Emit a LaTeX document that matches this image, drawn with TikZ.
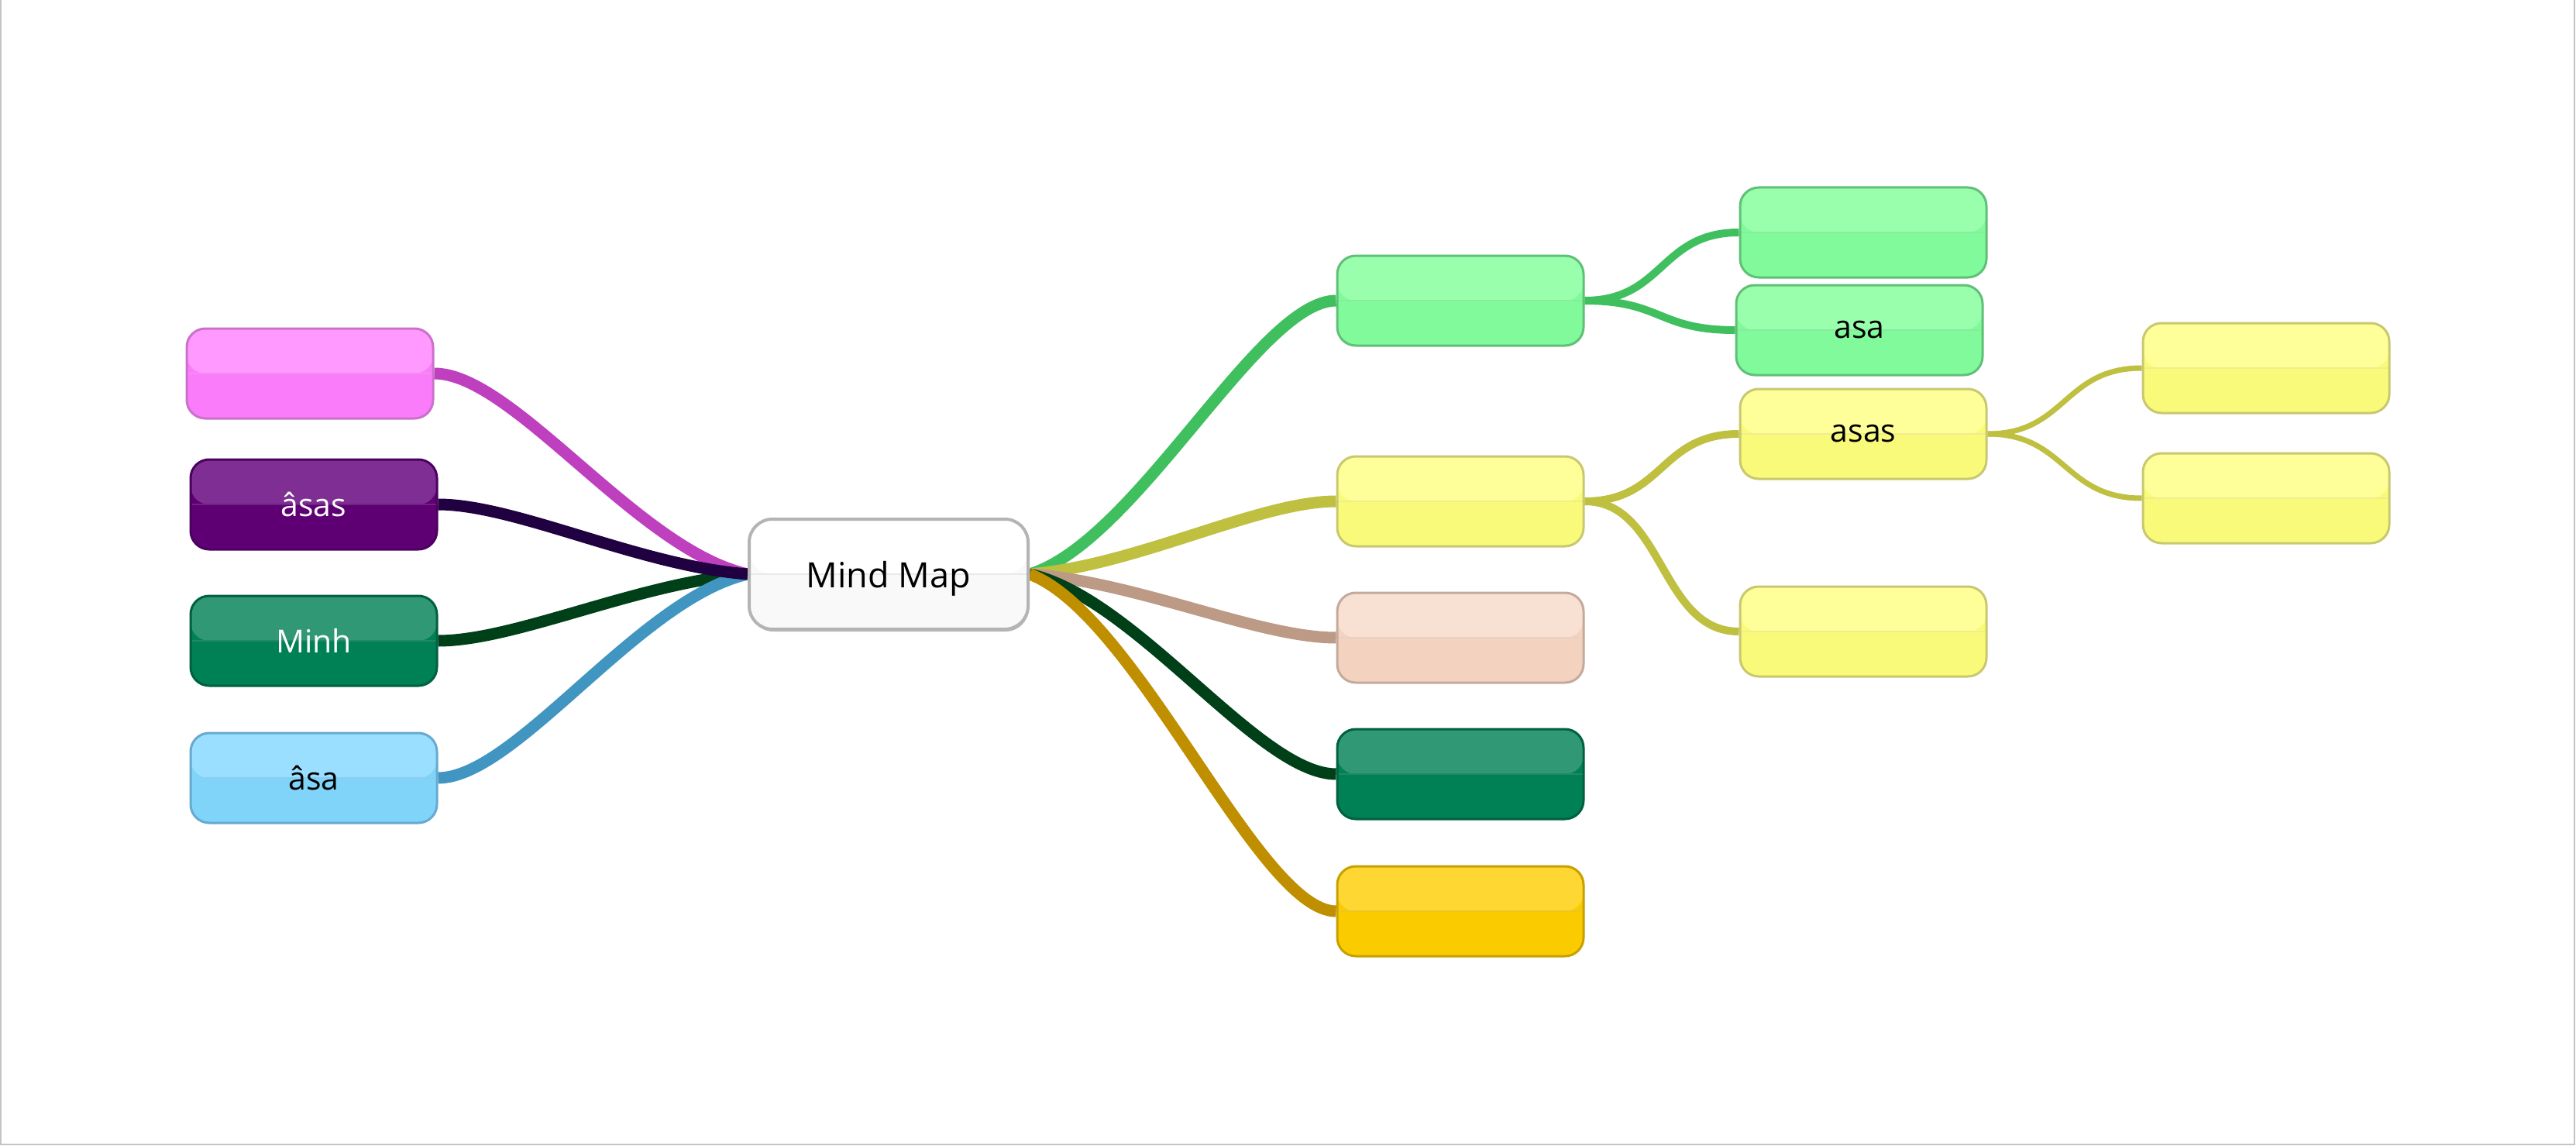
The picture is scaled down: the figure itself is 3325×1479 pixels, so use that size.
\documentclass[tikz,border=0pt]{standalone}
\usepackage{fontspec}
\setmainfont{Open Sans}
\usetikzlibrary{backgrounds,shadows,calc}
\definecolor{pinkT}{HTML}{FF99FF}\definecolor{pinkB}{HTML}{FA7CFA}\definecolor{pinkD}{HTML}{CC70CC}\definecolor{pinkL}{HTML}{BF40BF}
\definecolor{purT}{HTML}{7F2F93}\definecolor{purB}{HTML}{5E0073}\definecolor{purD}{HTML}{4C0060}\definecolor{purL}{HTML}{200040}
\definecolor{mgT}{HTML}{319876}\definecolor{mgB}{HTML}{008055}\definecolor{mgD}{HTML}{00603F}\definecolor{mgL}{HTML}{004018}
\definecolor{blT}{HTML}{9ADFFF}\definecolor{blB}{HTML}{80D4FA}\definecolor{blD}{HTML}{66AAD0}\definecolor{blL}{HTML}{4096C0}
\definecolor{lgT}{HTML}{99FFAD}\definecolor{lgB}{HTML}{80FA9A}\definecolor{lgD}{HTML}{60C078}\definecolor{lgL}{HTML}{40BF5F}
\definecolor{ylT}{HTML}{FFFF99}\definecolor{ylB}{HTML}{FAFA7A}\definecolor{ylD}{HTML}{C8C870}\definecolor{ylL}{HTML}{BFBF40}
\definecolor{peT}{HTML}{F8E0D2}\definecolor{peB}{HTML}{F3D3C0}\definecolor{peD}{HTML}{C4AA9C}\definecolor{peL}{HTML}{BC9A86}
\definecolor{goT}{HTML}{FFD733}\definecolor{goB}{HTML}{FACC00}\definecolor{goD}{HTML}{C8A000}\definecolor{goL}{HTML}{BF8F00}
\definecolor{mmT}{HTML}{FFFFFF}\definecolor{mmB}{HTML}{F9F9F9}\definecolor{mmD}{HTML}{B4B4B4}
\definecolor{frameC}{HTML}{C4C4C4}
\tikzset{
  twotone/.style n args={3}{fill=#2, draw=#3,
    path picture={\fill[#1] (path picture bounding box.north west) rectangle (path picture bounding box.east);
      \draw[line width=2.5pt, #1!70!#3] (path picture bounding box.west) -- (path picture bounding box.east);}},
  sbox/.style={rectangle, rounded corners=24pt, minimum width=318pt, minimum height=116pt,
    line width=3pt, inner sep=0pt, font=\fontsize{41}{48}\selectfont},
  mmbox/.style={rectangle, rounded corners=30pt, minimum width=360pt, minimum height=142pt,
    line width=4pt, inner sep=0pt, text depth=0pt, font=\fontsize{45}{52}\selectfont,
    twotone={mmT}{mmB}{mmD},
    drop shadow={shadow xshift=1pt, shadow yshift=-3pt, fill=black!28, opacity=1}},
  pinkbox/.style={sbox, twotone={pinkT}{pinkB}{pinkD}},
  purbox/.style={sbox, twotone={purT}{purB}{purD}, text=white},
  mgbox/.style={sbox, twotone={mgT}{mgB}{mgD}, text=white},
  blbox/.style={sbox, twotone={blT}{blB}{blD}},
  lgbox/.style={sbox, twotone={lgT}{lgB}{lgD}},
  ylbox/.style={sbox, twotone={ylT}{ylB}{ylD}},
  pebox/.style={sbox, twotone={peT}{peB}{peD}},
  gobox/.style={sbox, twotone={goT}{goB}{goD}},
  mainline/.style={line width=15pt, line cap=butt},
  childline/.style={line width=10pt, line cap=butt},
  grandline/.style={line width=7pt, line cap=butt},
}
% main branch from centre anchor #2 to child anchor #3; #4 = signed end arm
\newcommand{\mmbranch}[4]{%
  \coordinate (cax) at ($(#2)!0.35!(#3)$);
  \coordinate (cay) at ($(#2)!0.12!(#3)$);
  \draw[mainline, #1] (#2) .. controls (cax |- cay) and ([xshift=#4pt]#3) .. (#3);}
\newcommand{\mmchild}[4]{%
  \draw[#1] (#2) .. controls ([xshift=#4pt]#2) and ([xshift=-#4pt]#3) .. (#3);}
\begin{document}
\begin{tikzpicture}[x=1pt,y=-1pt]
\useasboundingbox (0,0) rectangle (3325,1479);
% nodes
\node[mmbox] (mm) at (1147,741) {Mind Map};
\node[pinkbox] (l1) at (400,482) {};
\node[purbox] (l2) at (405,651) {âsas};
\node[mgbox] (l3) at (405,827) {Minh};
\node[blbox] (l4) at (405,1004) {âsa};
\node[lgbox] (r1) at (1885,388) {};
\node[ylbox] (r2) at (1885,647) {};
\node[pebox] (r3) at (1885,823) {};
\node[mgbox] (r4) at (1885,999) {};
\node[gobox] (r5) at (1885,1176) {};
\node[lgbox] (g1) at (2405,300) {};
\node[lgbox] (g2) at (2400,426) {asa};
\node[ylbox] (y1) at (2405,560) {asas};
\node[ylbox] (y2) at (2405,815) {};
\node[ylbox] (y3) at (2925,475) {};
\node[ylbox] (y4) at (2925,643) {};
\begin{scope}[on background layer]
\fill[white] (0,0) rectangle (3325,1479);
\draw[frameC, line width=2pt] (1,0) -- (1,1477) -- (3323,1477) -- (3323,0);
% left branches
\mmbranch{pinkL}{mm.west}{l1.east}{102}
\mmbranch{mgL}{mm.west}{l3.east}{100}
\mmbranch{blL}{mm.west}{l4.east}{100}
\mmbranch{purL}{mm.west}{l2.east}{100}
% right branches
\mmbranch{lgL}{mm.east}{r1.west}{-100}
\mmbranch{ylL}{mm.east}{r2.west}{-100}
\mmbranch{peL}{mm.east}{r3.west}{-100}
\mmbranch{mgL}{mm.east}{r4.west}{-100}
\mmbranch{goL}{mm.east}{r5.west}{-100}
% children
\mmchild{childline, lgL}{r1.east}{g1.west}{102}
\mmchild{childline, lgL}{r1.east}{g2.west}{100}
\mmchild{childline, ylL}{r2.east}{y1.west}{102}
\mmchild{childline, ylL}{r2.east}{y2.west}{102}
\mmchild{grandline, ylL}{y1.east}{y3.west}{101}
\mmchild{grandline, ylL}{y1.east}{y4.west}{101}
\end{scope}
\end{tikzpicture}
\end{document}
